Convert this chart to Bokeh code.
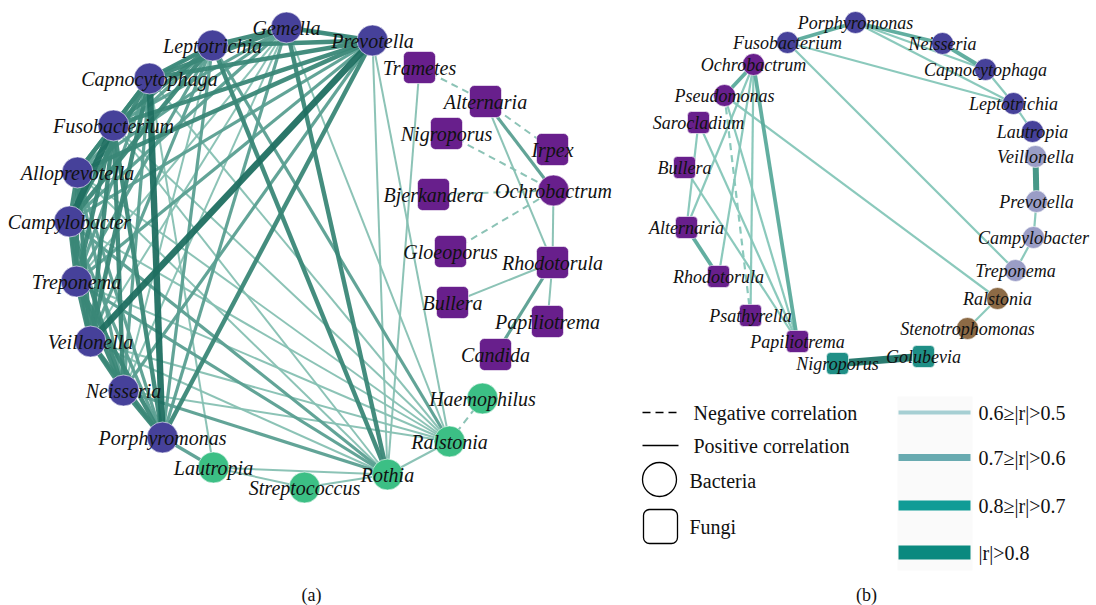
from bokeh.plotting import figure
from bokeh.models import Range1d, ColumnDataSource
from bokeh.core.properties import value
from bokeh.embed import file_html
from bokeh.resources import INLINE

# ---------------- panel (a): node layout ----------------
a_names = ["Gemella", "Prevotella", "Leptotrichia", "Capnocytophaga", "Fusobacterium",
           "Alloprevotella", "Campylobacter", "Treponema", "Veillonella", "Neisseria",
           "Porphyromonas", "Lautropia", "Streptococcus", "Rothia", "Ralstonia",
           "Haemophilus", "Ochrobactrum", "Trametes", "Alternaria", "Nigroporus", "Irpex",
           "Bjerkandera", "Gloeoporus", "Rhodotorula", "Bullera", "Papiliotrema", "Candida"]
a_x = [286, 372, 212, 149, 113, 77, 69, 76, 90, 123, 162, 213, 304, 387, 449, 482,
       553, 419, 485, 446, 552, 433, 450, 552, 452, 547, 495]
a_y = [27, 40, 45, 78, 125, 172, 221, 281, 341, 390, 437, 467, 487, 474, 441, 398,
       190, 67, 101, 133, 149, 194, 251, 262, 302, 321, 354]
a_group = ["blue"] * 11 + ["green"] * 5 + ["purple"] * 11
a_kingdom = ["bacteria"] * 17 + ["fungi"] * 10

# edges: (source, target, strength level 0..4, sign); level 0 = cyan arc
a_edges = [
    ("Gemella", "Prevotella", 3, "+"), ("Gemella", "Leptotrichia", 3, "+"),
    ("Gemella", "Capnocytophaga", 3, "+"), ("Gemella", "Fusobacterium", 2, "+"),
    ("Gemella", "Alloprevotella", 2, "+"), ("Gemella", "Campylobacter", 2, "+"),
    ("Gemella", "Treponema", 1, "+"), ("Gemella", "Veillonella", 1, "+"),
    ("Gemella", "Neisseria", 1, "+"), ("Gemella", "Porphyromonas", 2, "+"),
    ("Prevotella", "Leptotrichia", 3, "+"), ("Prevotella", "Capnocytophaga", 3, "+"),
    ("Prevotella", "Fusobacterium", 3, "+"), ("Prevotella", "Alloprevotella", 3, "+"),
    ("Prevotella", "Campylobacter", 2, "+"), ("Prevotella", "Treponema", 2, "+"),
    ("Prevotella", "Veillonella", 4, "+"), ("Prevotella", "Neisseria", 2, "+"),
    ("Prevotella", "Porphyromonas", 3, "+"),
    ("Leptotrichia", "Capnocytophaga", 3, "+"), ("Leptotrichia", "Fusobacterium", 3, "+"),
    ("Leptotrichia", "Alloprevotella", 2, "+"), ("Leptotrichia", "Campylobacter", 3, "+"),
    ("Leptotrichia", "Treponema", 2, "+"), ("Leptotrichia", "Veillonella", 2, "+"),
    ("Leptotrichia", "Neisseria", 1, "+"), ("Leptotrichia", "Porphyromonas", 2, "+"),
    ("Capnocytophaga", "Fusobacterium", 3, "+"), ("Capnocytophaga", "Alloprevotella", 3, "+"),
    ("Capnocytophaga", "Campylobacter", 3, "+"), ("Capnocytophaga", "Treponema", 2, "+"),
    ("Capnocytophaga", "Veillonella", 3, "+"), ("Capnocytophaga", "Neisseria", 2, "+"),
    ("Capnocytophaga", "Porphyromonas", 4, "+"),
    ("Fusobacterium", "Alloprevotella", 3, "+"), ("Fusobacterium", "Campylobacter", 4, "+"),
    ("Fusobacterium", "Treponema", 3, "+"), ("Fusobacterium", "Veillonella", 3, "+"),
    ("Fusobacterium", "Neisseria", 3, "+"), ("Fusobacterium", "Porphyromonas", 3, "+"),
    ("Alloprevotella", "Campylobacter", 3, "+"), ("Alloprevotella", "Treponema", 3, "+"),
    ("Alloprevotella", "Veillonella", 3, "+"), ("Alloprevotella", "Neisseria", 2, "+"),
    ("Alloprevotella", "Porphyromonas", 2, "+"),
    ("Campylobacter", "Treponema", 3, "+"), ("Campylobacter", "Veillonella", 3, "+"),
    ("Campylobacter", "Neisseria", 3, "+"), ("Campylobacter", "Porphyromonas", 2, "+"),
    ("Treponema", "Veillonella", 3, "+"), ("Treponema", "Neisseria", 3, "+"),
    ("Treponema", "Porphyromonas", 3, "+"),
    ("Veillonella", "Neisseria", 3, "+"), ("Veillonella", "Porphyromonas", 3, "+"),
    ("Neisseria", "Porphyromonas", 3, "+"),
    ("Gemella", "Rothia", 3, "+"), ("Leptotrichia", "Rothia", 3, "+"),
    ("Prevotella", "Rothia", 1, "+"), ("Campylobacter", "Rothia", 2, "+"),
    ("Treponema", "Rothia", 2, "+"), ("Veillonella", "Rothia", 1, "+"),
    ("Neisseria", "Rothia", 2, "+"), ("Fusobacterium", "Rothia", 1, "+"),
    ("Alloprevotella", "Rothia", 1, "+"), ("Trametes", "Rothia", 1, "+"),
    ("Prevotella", "Ralstonia", 1, "+"), ("Gemella", "Ralstonia", 1, "+"),
    ("Leptotrichia", "Ralstonia", 2, "+"), ("Capnocytophaga", "Ralstonia", 1, "+"),
    ("Fusobacterium", "Ralstonia", 1, "+"), ("Alloprevotella", "Ralstonia", 1, "+"),
    ("Campylobacter", "Ralstonia", 1, "+"), ("Veillonella", "Ralstonia", 1, "+"),
    ("Neisseria", "Ralstonia", 1, "+"), ("Treponema", "Ralstonia", 1, "+"),
    ("Porphyromonas", "Lautropia", 2, "+"), ("Capnocytophaga", "Lautropia", 1, "+"),
    ("Lautropia", "Rothia", 1, "+"), ("Lautropia", "Streptococcus", 1, "+"),
    ("Streptococcus", "Rothia", 1, "+"), ("Ralstonia", "Rothia", 1, "+"),
    ("Haemophilus", "Ralstonia", 1, "-"),
    ("Trametes", "Alternaria", 1, "-"), ("Alternaria", "Irpex", 1, "-"),
    ("Nigroporus", "Ochrobactrum", 1, "-"), ("Bjerkandera", "Ochrobactrum", 1, "-"),
    ("Gloeoporus", "Ochrobactrum", 1, "-"),
    ("Alternaria", "Ochrobactrum", 2, "+"), ("Alternaria", "Rhodotorula", 1, "+"),
    ("Ochrobactrum", "Rhodotorula", 1, "+"), ("Rhodotorula", "Bullera", 1, "+"),
    ("Rhodotorula", "Papiliotrema", 1, "+"), ("Rhodotorula", "Candida", 2, "+"),
    ("Gemella", "Prevotella", 0, "+"), ("Leptotrichia", "Capnocytophaga", 0, "+"),
    ("Capnocytophaga", "Fusobacterium", 0, "+"),
]

# ---------------- panel (b): node layout ----------------
b_names = ["Porphyromonas", "Fusobacterium", "Neisseria", "Capnocytophaga", "Leptotrichia",
           "Lautropia", "Veillonella", "Prevotella", "Campylobacter", "Treponema",
           "Ralstonia", "Stenotrophomonas", "Golubevia", "Nigroporus", "Papiliotrema",
           "Psathyrella", "Rhodotorula", "Alternaria", "Bullera", "Sarocladium",
           "Pseudomonas", "Ochrobactrum"]
b_x = [855, 787, 942, 985, 1013, 1032, 1035, 1036, 1033, 1015, 997, 967, 923, 837,
       797, 750, 718, 686, 684, 698, 724, 753]
b_y = [22, 42, 43, 69, 103, 131, 156, 201, 237, 270, 298, 328, 356, 363, 341, 315,
       276, 227, 167, 122, 95, 64]
b_group = ["blue"] * 6 + ["lilac"] * 4 + ["brown"] * 2 + ["teal"] * 2 + ["purple"] * 8
b_kingdom = ["bacteria"] * 12 + ["fungi"] * 8 + ["bacteria"] * 2

b_edges = [
    ("Porphyromonas", "Neisseria", 2, "+"), ("Porphyromonas", "Capnocytophaga", 1, "+"),
    ("Porphyromonas", "Leptotrichia", 1, "+"), ("Neisseria", "Capnocytophaga", 2, "+"),
    ("Porphyromonas", "Fusobacterium", 2, "+"), ("Fusobacterium", "Leptotrichia", 1, "+"),
    ("Fusobacterium", "Treponema", 1, "+"), ("Capnocytophaga", "Leptotrichia", 1, "+"),
    ("Leptotrichia", "Lautropia", 1, "+"), ("Veillonella", "Prevotella", 3, "+"),
    ("Prevotella", "Campylobacter", 1, "+"), ("Campylobacter", "Treponema", 1, "+"),
    ("Ralstonia", "Stenotrophomonas", 1, "+"), ("Nigroporus", "Golubevia", 4, "+"),
    ("Ochrobactrum", "Pseudomonas", 2, "+"), ("Ochrobactrum", "Papiliotrema", 2, "+"),
    ("Ochrobactrum", "Rhodotorula", 1, "+"), ("Ochrobactrum", "Alternaria", 1, "+"),
    ("Ochrobactrum", "Psathyrella", 1, "+"), ("Pseudomonas", "Papiliotrema", 1, "+"),
    ("Pseudomonas", "Psathyrella", 1, "-"), ("Pseudomonas", "Ralstonia", 1, "+"),
    ("Sarocladium", "Alternaria", 1, "+"), ("Sarocladium", "Papiliotrema", 1, "+"),
    ("Bullera", "Papiliotrema", 1, "+"), ("Alternaria", "Rhodotorula", 2, "+"),
]

# legend entries for edge strength
strength_labels = ["0.6≥|r|>0.5", "0.7≥|r|>0.6", "0.8≥|r|>0.7", "|r|>0.8"]

# ---------------- styling ----------------
A_EDGE = {0: ("#45cdd0", 1.6), 1: ("#86c0b2", 2.0), 2: ("#5a9f91", 3.2),
          3: ("#3a8777", 4.4), 4: ("#1f6f61", 6.5)}
B_EDGE = {1: ("#85c6b8", 2.2), 2: ("#5aaa9b", 3.8), 3: ("#3d9282", 6.0),
          4: ("#1f7468", 7.5)}
NODE_COL = {"blue": "#46419a", "green": "#3cbf85", "purple": "#681f8c",
            "lilac": "#9a9dc6", "brown": "#8c6a45", "teal": "#1f8f86"}
LEG_COL = ["#a6cfd3", "#68aab0", "#109c96", "#0a897f"]
LEG_W = [4, 7, 10, 14]

SERIF = value("Liberation Serif")

p = figure(width=1096, height=605, output_backend="svg", toolbar_location=None,
           x_range=Range1d(0, 1096), y_range=Range1d(605, 0),
           x_axis_type=None, y_axis_type=None, min_border=0)
p.grid.visible = False
p.outline_line_color = None
p.background_fill_color = "white"


def draw_edges(names, xs, ys, edges, style):
    pos = {n: (x, y) for n, x, y in zip(names, xs, ys)}
    for sign in ("+", "-"):
        for lvl in sorted(style):
            sel = [e for e in edges if e[2] == lvl and e[3] == sign]
            if not sel:
                continue
            src = ColumnDataSource(dict(
                x0=[pos[e[0]][0] for e in sel], y0=[pos[e[0]][1] for e in sel],
                x1=[pos[e[1]][0] for e in sel], y1=[pos[e[1]][1] for e in sel]))
            col, w = style[lvl]
            p.segment("x0", "y0", "x1", "y1", source=src, line_color=col,
                      line_width=w, line_alpha=0.95,
                      line_dash="solid" if sign == "+" else "7 5")


def draw_nodes(names, xs, ys, groups, kingdoms, csize, ssize, radius, fsize):
    circ = [i for i, k in enumerate(kingdoms) if k == "bacteria"]
    sq = [i for i, k in enumerate(kingdoms) if k == "fungi"]
    p.scatter([xs[i] for i in circ], [ys[i] for i in circ], size=csize,
              marker="circle", fill_color=[NODE_COL[groups[i]] for i in circ],
              line_color="white", line_width=0.6)
    h = ssize / 2
    p.quad(left=[xs[i] - h for i in sq], right=[xs[i] + h for i in sq],
           top=[ys[i] - h for i in sq], bottom=[ys[i] + h for i in sq],
           fill_color=[NODE_COL[groups[i]] for i in sq], line_color="white",
           line_width=0.6, border_radius=radius)
    p.text(xs, ys, text=names, text_font=SERIF, text_font_style="italic",
           text_font_size=fsize, text_align="center", text_baseline="middle",
           text_color="#111111")


draw_edges(a_names, a_x, a_y, a_edges, A_EDGE)
draw_nodes(a_names, a_x, a_y, a_group, a_kingdom, 31, 32, 5, "20px")
draw_edges(b_names, b_x, b_y, b_edges, B_EDGE)
draw_nodes(b_names, b_x, b_y, b_group, b_kingdom, 22, 22, 4, "18px")

# ---------------- legend ----------------
p.segment(x0=[642], y0=[412], x1=[678], y1=[412], line_color="black",
          line_width=1.6, line_dash="8 5")
p.segment(x0=[642], y0=[445], x1=[678], y1=[445], line_color="black", line_width=1.6)
p.scatter([659], [479], size=34, marker="circle", fill_color="white",
          line_color="black", line_width=1.3)
p.quad(left=[643], right=[677], top=[509], bottom=[543], fill_color="white",
       line_color="black", line_width=1.3, border_radius=6)
p.text([693, 693, 689, 689], [412, 445, 480, 526],
       text=["Negative correlation", "Positive correlation", "Bacteria", "Fungi"],
       text_font=SERIF, text_font_size="20px", text_baseline="middle",
       text_color="#111111")

# faint backdrop behind the strength swatches
p.quad(left=[897], right=[972], top=[396], bottom=[570], fill_color="#fafafa",
       line_color=None)
leg_y = [412, 457, 505, 552]
p.segment(x0=[898] * 4, y0=leg_y, x1=[970] * 4, y1=leg_y, line_color=LEG_COL,
          line_width=LEG_W)
p.text([978] * 4, leg_y, text=strength_labels, text_font=SERIF,
       text_font_size="20px", text_baseline="middle", text_color="#111111")

p.text([311, 866], [594, 594], text=["(a)", "(b)"], text_font=SERIF,
       text_font_size="18px", text_align="center", text_baseline="middle",
       text_color="#111111")

open("out.html", "w").write(file_html(p, INLINE))
